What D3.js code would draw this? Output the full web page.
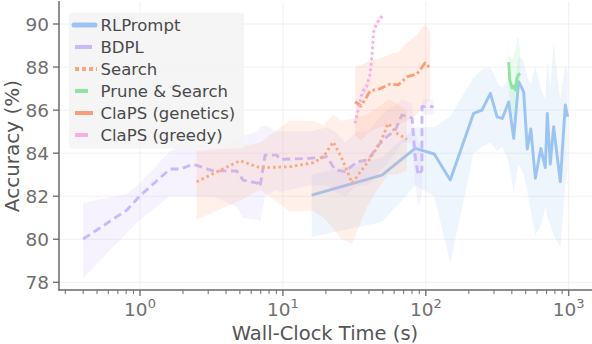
<!DOCTYPE html>
<html>
<head>
<meta charset="utf-8">
<script src="https://cdn.jsdelivr.net/npm/d3@7/dist/d3.min.js"></script>
<style>
  html, body { margin: 0; padding: 0; background: #fff; }
  svg { display: block; font-family: "DejaVu Sans", sans-serif; }
</style>
</head>
<body>
<div id="app"></div>
<script>
const width = 592;
const height = 344;

// RLPrompt
const rlTime = [15.9, 49.3, 84.3, 114.5, 148.3, 216, 247, 283, 315, 343, 380, 412, 446, 484, 513, 543, 584, 638, 686, 708, 743, 784, 873, 946, 983];
const rlAcc  = [82.05, 82.98, 84.22, 83.96, 82.75, 85.85, 86.0, 86.78, 85.69, 85.61, 86.38, 84.69, 87.32, 86.85, 84.19, 85.12, 82.83, 84.22, 83.33, 85.85, 83.49, 85.23, 82.67, 86.24, 85.69];
const rlLow  = [80.1, 80.8, 82.5, 82.0, 78.9, 84.0, 84.3, 84.5, 84.1, 84.3, 83.6, 82.2, 83.5, 83.0, 82.2, 81.3, 80.2, 80.6, 81.5, 81.0, 80.7, 80.2, 79.6, 82.5, 83.3];
const rlHigh = [83.0, 83.8, 85.2, 85.2, 85.7, 87.5, 87.9, 88.0, 87.3, 87.0, 87.5, 87.0, 88.5, 88.3, 87.5, 87.2, 88.0, 87.0, 86.5, 88.3, 87.0, 89.1, 86.5, 88.1, 87.8];

// BDPL
const bdTime = [0.40, 0.81, 1.0, 1.62, 1.91, 2.36, 3.24, 4.75, 5.26, 6.70, 6.92, 7.50, 9.06, 9.55, 15.5, 20.3, 23.2, 27.3, 32.9, 39.5, 45.5, 53.4, 61.1, 68.0, 80.0, 84.3, 88.5, 93.9, 94.0, 113.2];
const bdAcc  = [80.01, 81.36, 82.02, 83.26, 83.26, 83.49, 83.18, 83.17, 82.75, 82.6, 82.44, 83.91, 83.91, 83.71, 83.76, 83.83, 83.22, 83.14, 83.6, 83.68, 84.3, 84.76, 85.07, 85.77, 85.63, 83.82, 82.98, 83.2, 86.16, 86.16];
const bdLow  = [78.2, 80.3, 80.9, 82.0, 82.0, 82.0, 82.0, 81.5, 81.0, 80.9, 80.8, 82.0, 82.3, 82.2, 82.5, 82.5, 82.2, 82.0, 82.5, 82.5, 83.0, 83.5, 84.0, 84.5, 84.5, 82.5, 81.5, 82.0, 85.8, 85.8];
const bdHigh = [81.7, 82.1, 82.6, 84.1, 84.3, 84.4, 84.3, 84.6, 84.8, 85.0, 85.2, 85.3, 85.0, 85.0, 85.0, 85.2, 85.0, 84.5, 85.0, 85.0, 85.5, 86.0, 86.2, 86.5, 86.3, 85.0, 84.5, 84.5, 86.5, 86.5];

// Search
const seTime = [2.49, 5.01, 6.92, 11.2, 16.4, 19.2, 22.5, 25.6, 30.5, 38.7, 47.9, 54.6, 62.8, 73.8];
const seAcc  = [82.67, 83.65, 83.32, 83.37, 83.56, 83.82, 84.52, 83.82, 82.61, 83.53, 84.47, 85.38, 84.92, 84.64];
const seLow  = [80.9, 81.8, 82.3, 81.3, 81.3, 81.0, 80.5, 80.0, 79.8, 81.5, 82.5, 83.0, 83.0, 83.2];
const seHigh = [84.1, 84.3, 84.5, 85.5, 85.5, 85.3, 85.8, 85.5, 85.6, 85.8, 86.2, 86.5, 86.3, 86.0];

// Prune & Search
const prTime = [380, 387, 401, 412, 423, 434, 444, 458];
const prAcc  = [88.23, 87.40, 87.03, 87.12, 86.93, 87.49, 87.63, 87.70];
const prLow  = [87.0, 86.3, 85.8, 85.5, 85.8, 86.5, 86.8, 87.0];
const prHigh = [89.3, 88.5, 88.3, 88.6, 88.8, 89.3, 89.4, 88.8];

// ClaPS (genetics)
const geTime = [32.0, 35.3, 40.8, 47.9, 56.3, 64.1, 73.8, 86.6, 99.0, 107.4];
const geAcc  = [86.39, 86.19, 86.89, 87.0, 87.21, 87.17, 87.54, 87.68, 88.19, 87.94];
const geLow  = [84.8, 84.6, 85.0, 85.2, 85.3, 85.3, 85.5, 85.8, 86.3, 86.5];
const geHigh = [88.0, 88.1, 88.3, 88.4, 88.6, 88.7, 89.1, 89.5, 90.0, 89.6];

// ClaPS (greedy)
const grTime = [32.0, 34.7, 35.9, 38.7, 40.8, 42.0, 43.1, 45.0, 49.5];
const grAcc  = [85.39, 86.39, 86.84, 87.12, 87.68, 88.56, 89.63, 90.0, 90.37];
const grLow  = [85.2, 86.2, 86.6, 86.9, 87.4, 88.3, 89.4, 89.8, 90.2];
const grHigh = [85.6, 86.6, 87.1, 87.4, 87.9, 88.8, 89.9, 90.2, 90.5];

const yTicks = [78, 80, 82, 84, 86, 88, 90];
const xTicks = [1, 10, 100, 1000];
const xTickExp = ['0', '1', '2', '3'];
const seriesNames = ['RLPrompt', 'BDPL', 'Search', 'Prune & Search', 'ClaPS (genetics)', 'ClaPS (greedy)'];

const series = [
  { name: seriesNames[0], t: rlTime, m: rlAcc, lo: rlLow, hi: rlHigh, color: '#9cc4f2', dash: null },
  { name: seriesNames[1], t: bdTime, m: bdAcc, lo: bdLow, hi: bdHigh, color: '#cbb7fd', dash: '8,4.5' },
  { name: seriesNames[2], t: seTime, m: seAcc, lo: seLow, hi: seHigh, color: '#fda77f', dash: '2.5,3' },
  { name: seriesNames[3], t: prTime, m: prAcc, lo: prLow, hi: prHigh, color: '#8de5a1', dash: null },
  { name: seriesNames[4], t: geTime, m: geAcc, lo: geLow, hi: geHigh, color: '#fd9c78', dash: '8,3,2.5,3' },
  { name: seriesNames[5], t: grTime, m: grAcc, lo: grLow, hi: grHigh, color: '#f8aee2', dash: '2.5,3' }
];

const x = d3.scaleLog().domain([0.2711, 1455]).range([59, 592]);
const y = d3.scaleLinear().domain([77.642, 91.022]).range([290, 2]);

const svg = d3.select('#app').append('svg')
  .attr('width', width)
  .attr('height', height);

// grid
const grid = svg.append('g').attr('stroke', '#ececec').attr('stroke-width', 0.8);
grid.selectAll('line.gy').data(yTicks).enter().append('line')
  .attr('x1', 59).attr('x2', 592)
  .attr('y1', d => y(d)).attr('y2', d => y(d));
grid.selectAll('line.gx').data(xTicks).enter().append('line')
  .attr('y1', 2).attr('y2', 290)
  .attr('x1', d => x(d)).attr('x2', d => x(d));

// bands + lines, drawn in legend order
series.forEach(s => {
  const pts = s.t.map((t, i) => ({ t, m: s.m[i], lo: s.lo[i], hi: s.hi[i] }));
  svg.append('path')
    .datum(pts)
    .attr('fill', s.color)
    .attr('fill-opacity', 0.17)
    .attr('d', d3.area().x(d => x(d.t)).y0(d => y(d.lo)).y1(d => y(d.hi)));
  svg.append('path')
    .datum(pts)
    .attr('fill', 'none')
    .attr('stroke', s.color)
    .attr('stroke-width', 2.9)
    .attr('stroke-dasharray', s.dash)
    .attr('stroke-linejoin', 'round')
    .attr('d', d3.line().x(d => x(d.t)).y(d => y(d.m)));
});

// spines
const axisColor = '#6a6a6a';
svg.append('line').attr('x1', 59).attr('x2', 59).attr('y1', 1).attr('y2', 290.5)
  .attr('stroke', axisColor).attr('stroke-width', 1.5);
svg.append('line').attr('x1', 58.3).attr('x2', 592).attr('y1', 290).attr('y2', 290)
  .attr('stroke', axisColor).attr('stroke-width', 1.5);

// y ticks
svg.selectAll('line.yt').data(yTicks).enter().append('line')
  .attr('x1', 53).attr('x2', 59)
  .attr('y1', d => y(d)).attr('y2', d => y(d))
  .attr('stroke', axisColor).attr('stroke-width', 1.3);
svg.selectAll('text.yl').data(yTicks).enter().append('text')
  .attr('x', 49).attr('y', d => y(d)).attr('dy', '0.36em')
  .attr('text-anchor', 'end')
  .attr('fill', '#707070')
  .attr('font-size', 18.5)
  .text(d => d);

// x ticks
const minor = [];
[0.1, 1, 10, 100].forEach(b => { for (let k = 2; k <= 9; k++) minor.push(b * k); });
svg.selectAll('line.xm').data(minor.filter(v => v > 0.2711 && v < 1455)).enter().append('line')
  .attr('x1', d => x(d)).attr('x2', d => x(d))
  .attr('y1', 290).attr('y2', 294)
  .attr('stroke', axisColor).attr('stroke-width', 1);
svg.selectAll('line.xt').data(xTicks).enter().append('line')
  .attr('x1', d => x(d)).attr('x2', d => x(d))
  .attr('y1', 290).attr('y2', 296)
  .attr('stroke', axisColor).attr('stroke-width', 1.3);
const xl = svg.selectAll('text.xl').data(xTicks).enter().append('text')
  .attr('x', d => x(d)).attr('y', 315.5)
  .attr('text-anchor', 'middle')
  .attr('fill', '#707070')
  .attr('font-size', 18.5);
xl.append('tspan').text('10');
xl.append('tspan').attr('dy', -8).attr('font-size', 13).text((_, i) => xTickExp[i]);

// axis titles
svg.append('text')
  .attr('x', 325).attr('y', 340)
  .attr('text-anchor', 'middle')
  .attr('fill', '#555')
  .attr('font-size', 19.5)
  .text('Wall-Clock Time (s)');
svg.append('text')
  .attr('transform', 'translate(19,146) rotate(-90)')
  .attr('text-anchor', 'middle')
  .attr('fill', '#555')
  .attr('font-size', 20)
  .text('Accuracy (%)');

// legend
const legend = svg.append('g');
legend.append('rect')
  .attr('x', 69).attr('y', 12.5).attr('width', 175).attr('height', 136)
  .attr('rx', 3)
  .attr('fill', '#f3f3f3').attr('fill-opacity', 0.85);
const handleLen = [21, 17, 22, 13, 18, 13];
series.forEach((s, i) => {
  const cy = 25 + i * 22;
  legend.append('line')
    .attr('x1', i === 0 ? 74 : 75).attr('x2', (i === 0 ? 74 : 75) + handleLen[i])
    .attr('y1', cy).attr('y2', cy)
    .attr('stroke', s.color)
    .attr('stroke-width', i === 0 ? 5 : 4)
    .attr('stroke-linecap', i === 0 ? 'round' : 'butt')
    .attr('stroke-dasharray', i === 2 ? '4,3' : null);
  legend.append('text')
    .attr('x', 100.5).attr('y', cy).attr('dy', '0.36em')
    .attr('fill', '#4a4a4a')
    .attr('font-size', 16.5)
    .text(s.name);
});
</script>
</body>
</html>
